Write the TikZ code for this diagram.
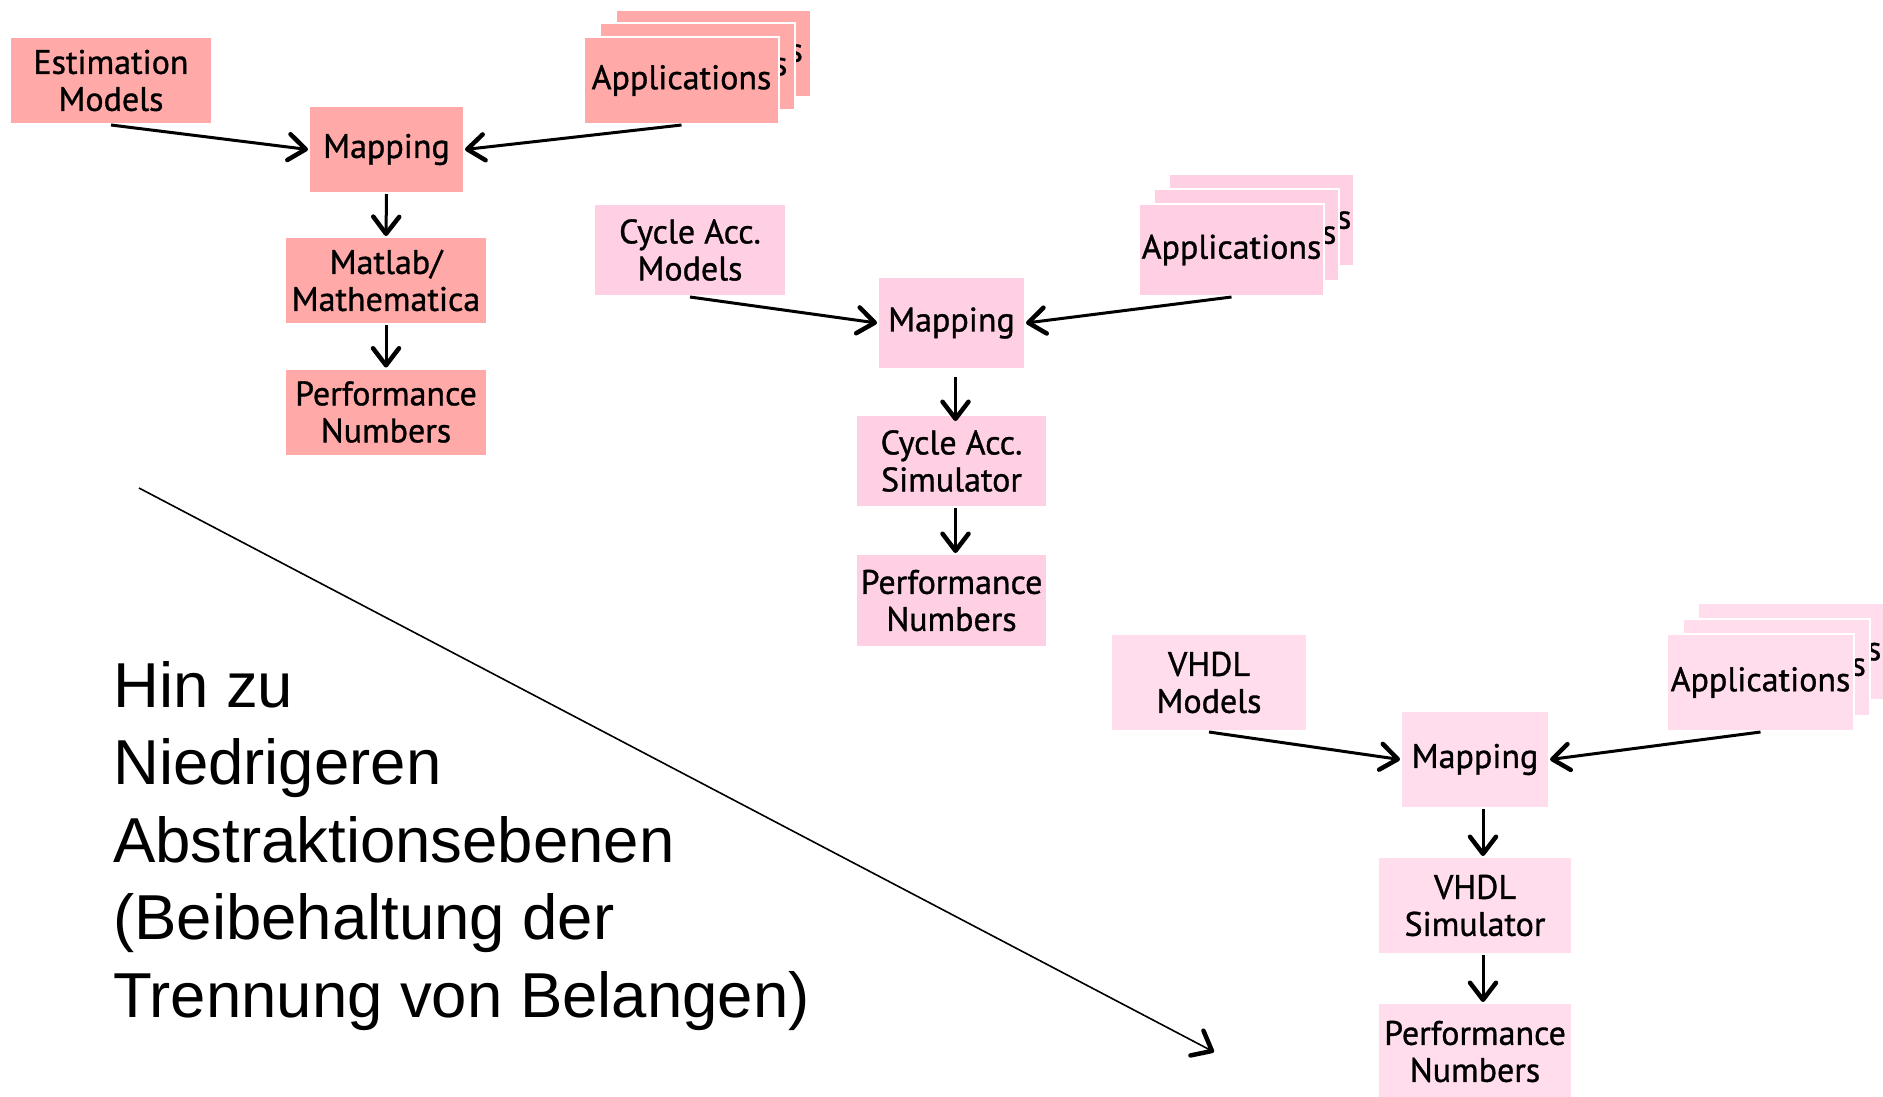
\documentclass[tikz,border=0pt]{standalone}
\usepackage{fontspec}
\setmainfont{Liberation Sans}
\newfontfamily\boxfont[FakeBold=1]{PT Sans}
\usetikzlibrary{arrows.meta}
\definecolor{salmon}{HTML}{FFAAA8}
\definecolor{pinkmid}{HTML}{FFD0E4}
\definecolor{pinklight}{HTML}{FFDDEC}
\tikzset{
  blk/.style={rectangle, draw=white, line width=2pt, align=center, inner sep=0pt,
    font=\boxfont\fontsize{34}{37}\selectfont},
  flow/.style={line width=3pt, -{Straight Barb[length=17pt,width=26pt,round,line width=4.5pt]}},
  trend/.style={line width=1.6pt, -{Straight Barb[length=17pt,width=28pt,round,line width=4.5pt]}},
}
\begin{document}
\begin{tikzpicture}[x=1pt,y=-1pt]
\useasboundingbox (0,0) rectangle (1883,1096);

% ---- first level: estimation ----
\node[blk, fill=salmon, minimum width=202, minimum height=87] (est) at (111,80.5) {Estimation\\Models};
\node[blk, fill=salmon, minimum width=195, minimum height=87] (appAc) at (713,53) {Applications};
\node[blk, fill=salmon, minimum width=195, minimum height=87] (appAb) at (697.5,66.5) {Applications};
\node[blk, fill=salmon, minimum width=195, minimum height=87] (appA) at (681.5,80.5) {Applications};
\node[blk, fill=salmon, minimum width=155, minimum height=87] (mapA) at (386.5,149.5) {Mapping};
\node[blk, fill=salmon, minimum width=202, minimum height=87] (mat) at (386,280.5) {Matlab/\\Mathematica};
\node[blk, fill=salmon, minimum width=202, minimum height=87] (perfA) at (386,412) {Performance\\Numbers};
\draw[flow] (est.south) -- (mapA.west);
\draw[flow] (appA.south) -- (mapA.east);
\draw[flow] (mapA.south) -- (mat.north);
\draw[flow] (mat.south) -- (perfA.north);

% ---- second level: cycle accurate ----
\node[blk, fill=pinkmid, minimum width=192, minimum height=92] (cyc) at (690,250) {Cycle Acc.\\Models};
\node[blk, fill=pinkmid, minimum width=185, minimum height=92] (appBc) at (1261.5,220) {Applications};
\node[blk, fill=pinkmid, minimum width=185, minimum height=92] (appBb) at (1246.5,235) {Applications};
\node[blk, fill=pinkmid, minimum width=185, minimum height=92] (appB) at (1231.5,250) {Applications};
\node[blk, fill=pinkmid, minimum width=147, minimum height=92] (mapB) at (951.5,323) {Mapping};
\node[blk, fill=pinkmid, minimum width=191, minimum height=92] (simB) at (951.5,461) {Cycle Acc.\\Simulator};
\node[blk, fill=pinkmid, minimum width=191, minimum height=93] (perfB) at (951.5,600.5) {Performance\\Numbers};
\draw[flow] (cyc.south) -- (mapB.west);
\draw[flow] (appB.south) -- (mapB.east);
\draw[flow] ([xshift=4pt,yshift=-7pt]mapB.south) -- ([xshift=4pt,yshift=-7pt]simB.north);
\draw[flow] ([xshift=4pt]simB.south) -- ([xshift=4pt]perfB.north);

% ---- third level: VHDL ----
\node[blk, fill=pinklight, minimum width=196, minimum height=97] (vhdl) at (1209,682.5) {VHDL\\Models};
\node[blk, fill=pinklight, minimum width=187, minimum height=97] (appCc) at (1791.5,651.5) {Applications};
\node[blk, fill=pinklight, minimum width=187, minimum height=97] (appCb) at (1776,667) {Applications};
\node[blk, fill=pinklight, minimum width=187, minimum height=97] (appC) at (1760.5,682.5) {Applications};
\node[blk, fill=pinklight, minimum width=148, minimum height=97] (mapC) at (1475,759.5) {Mapping};
\node[blk, fill=pinklight, minimum width=194, minimum height=97] (simC) at (1475,905.5) {VHDL\\Simulator};
\node[blk, fill=pinklight, minimum width=194, minimum height=97] (perfC) at (1475,1051.5) {Performance\\Numbers};
\draw[flow] (vhdl.south) -- (mapC.west);
\draw[flow] (appC.south) -- (mapC.east);
\draw[flow] ([xshift=8pt]mapC.south) -- ([xshift=8pt]simC.north);
\draw[flow] ([xshift=8pt]simC.south) -- ([xshift=8pt]perfC.north);

% ---- trend towards lower abstraction ----
\coordinate (trendA) at (139,488);
\coordinate (trendB) at (1214,1052);
\draw[trend] (trendA) -- (trendB);
\node[anchor=base west, align=left, inner sep=0pt,
  font=\fontsize{63.5}{77.5}\selectfont] (claim) at (113,1017)
  {Hin zu\\Niedrigeren\\Abstraktionsebenen\\(Beibehaltung der\\Trennung von Belangen)};
\end{tikzpicture}
\end{document}
